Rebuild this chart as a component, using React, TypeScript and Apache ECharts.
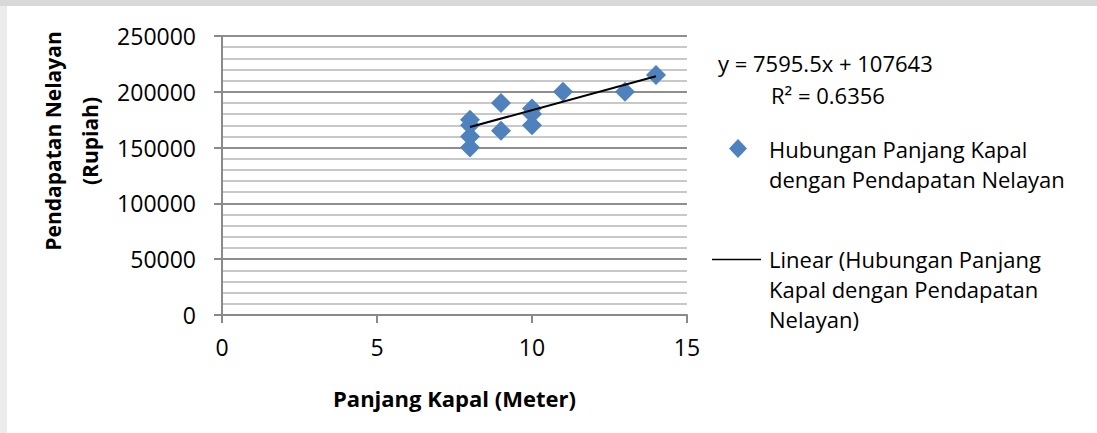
import React, { useEffect, useRef } from "react";
import * as echarts from "echarts";

// ---- data ----
const xValues = [8, 8, 8, 8, 9, 9, 10, 10, 10, 11, 13, 14];
const yValues = [150000, 160000, 170000, 175000, 190000, 165000, 185000, 180000, 170000, 200000, 200000, 215000];
const trendSlope = 7595.5;
const trendIntercept = 107643;
const rSquared = 0.6356;
const seriesName = "Hubungan Panjang Kapal dengan Pendapatan Nelayan";
const trendName = "Linear (Hubungan Panjang Kapal dengan Pendapatan Nelayan)";
const xAxisTitle = "Panjang Kapal (Meter)";
const yAxisTitle = ["Pendapatan Nelayan", "(Rupiah)"];
const legendLines1 = ["Hubungan Panjang Kapal", "dengan Pendapatan Nelayan"];
const legendLines2 = ["Linear (Hubungan Panjang", "Kapal dengan Pendapatan", "Nelayan)"];

const FONT = '"Open Sans", "Noto Sans", sans-serif';
const BLUE = "#4f81bd";

export default function App() {
  const ref = useRef<HTMLDivElement>(null);

  useEffect(() => {
    if (!ref.current) return;
    const chart = echarts.init(ref.current, null, { renderer: "svg" });

    const points = xValues.map((x, i) => [x, yValues[i]]);
    const xMin = Math.min(...xValues);
    const xMax = Math.max(...xValues);
    const trend = [
      [xMin, trendSlope * xMin + trendIntercept],
      [xMax, trendSlope * xMax + trendIntercept],
    ];

    const gLeft = 222, gTop = 36, gW = 465, gH = 279;

    chart.setOption({
      animation: false,
      backgroundColor: "#ffffff",
      grid: { left: gLeft, top: gTop, width: gW, height: gH, containLabel: false },
      xAxis: {
        type: "value",
        min: 0,
        max: 15,
        interval: 5,
        axisLine: { show: true, onZero: false, lineStyle: { color: "#8a8a8a", width: 2 } },
        axisTick: { show: true, length: 8, lineStyle: { color: "#8a8a8a", width: 2 } },
        axisLabel: { color: "#000", fontFamily: FONT, fontSize: 23, margin: 20, formatter: (v: number) => String(v) },
        splitLine: { show: false },
      },
      yAxis: {
        type: "value",
        min: 0,
        max: 250000,
        interval: 50000,
        axisLine: { show: true, lineStyle: { color: "#8a8a8a", width: 2 } },
        axisTick: { show: true, length: 8, lineStyle: { color: "#8a8a8a", width: 2 } },
        axisLabel: { color: "#000", fontFamily: FONT, fontSize: 23, margin: 26, formatter: (v: number) => String(v) },
        splitLine: { show: true, lineStyle: { color: "#8e8e8e", width: 2 } },
        minorTick: { show: false, splitNumber: 5 },
        minorSplitLine: { show: true, lineStyle: { color: "#c8c8c8", width: 2 } },
      },
      series: [
        {
          name: seriesName,
          type: "scatter",
          data: points,
          symbol: "diamond",
          symbolSize: 20,
          itemStyle: { color: BLUE, opacity: 1 },
          z: 3,
        },
        {
          name: trendName,
          type: "line",
          data: trend,
          showSymbol: false,
          symbol: "none",
          lineStyle: { color: "#000", width: 2 },
          z: 4,
        },
      ],
      graphic: [
        { type: "rect", shape: { x: 0, y: 0, width: 1097, height: 6 }, style: { fill: "#d9d9d9" }, silent: true, z: -10 },
        { type: "rect", shape: { x: 0, y: 6, width: 7, height: 427 }, style: { fill: "#ececec" }, silent: true, z: -10 },
        {
          type: "text",
          x: 71,
          y: 141,
          rotation: Math.PI / 2,
          style: {
            text: yAxisTitle.join("\n"),
            font: `bold 21px ${FONT}`,
            fill: "#000",
            align: "center",
            verticalAlign: "middle",
            lineHeight: 37,
          },
        },
        {
          type: "text",
          x: gLeft + gW / 2,
          y: 398,
          style: { text: xAxisTitle, font: `bold 22px ${FONT}`, fill: "#000", align: "center", verticalAlign: "middle" },
        },
        {
          type: "text",
          x: 718,
          y: 63,
          style: {
            text: `y = ${trendSlope}x + ${trendIntercept}`,
            font: `22px ${FONT}`,
            fill: "#000",
            align: "left",
            verticalAlign: "middle",
          },
        },
        {
          type: "text",
          x: 771,
          y: 95,
          style: { text: `R² = ${rSquared}`, font: `22px ${FONT}`, fill: "#000", align: "left", verticalAlign: "middle" },
        },
        {
          type: "polygon",
          shape: { points: [[738, 139], [747, 148.5], [738, 158], [729, 148.5]] },
          style: { fill: BLUE },
        },
        {
          type: "text",
          x: 769,
          y: 133.5,
          style: {
            text: legendLines1.join("\n"),
            font: `22px ${FONT}`,
            fill: "#000",
            align: "left",
            verticalAlign: "top",
            lineHeight: 30.5,
          },
        },
        {
          type: "line",
          shape: { x1: 712, y1: 259.5, x2: 761, y2: 259.5 },
          style: { stroke: "#000", lineWidth: 1.5 },
        },
        {
          type: "text",
          x: 769,
          y: 244,
          style: {
            text: legendLines2.join("\n"),
            font: `22px ${FONT}`,
            fill: "#000",
            align: "left",
            verticalAlign: "top",
            lineHeight: 30,
          },
        },
      ],
    });

    return () => chart.dispose();
  }, []);

  return (
    <div
      ref={ref}
      style={{ position: "fixed", left: 0, top: 0, width: 1097, height: 433, background: "#fff" }}
    />
  );
}
